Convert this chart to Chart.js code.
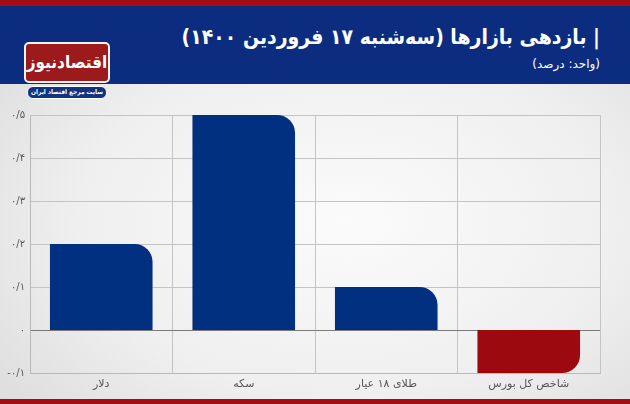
<!DOCTYPE html>
<html>
<head>
<meta charset="utf-8">
<script src="https://cdn.jsdelivr.net/npm/chart.js@4"></script>
<style>
  html, body { margin: 0; padding: 0; }
  body { width: 630px; height: 404px; position: relative; overflow: hidden;
         font-family: "DejaVu Sans", sans-serif;
         background: radial-gradient(ellipse at 55% 55%, #fbfbfb 0%, #efefef 55%, #d8d8d8 100%); }
  .strip-top { position: absolute; left: 0; top: 0; width: 630px; height: 6px; background: #a30d12; }
  .band { position: absolute; left: 0; top: 6px; width: 630px; height: 78px; background: #0c2d7f; }
  .strip-bottom { position: absolute; left: 0; top: 399px; width: 630px; height: 5px; background: #a30d12; }
  .title { position: absolute; right: 30px; top: 25px; direction: rtl; color: #fff;
           font-family: "DejaVu Sans Condensed", "DejaVu Sans", sans-serif;
           font-size: 21px; font-weight: bold; white-space: nowrap; }
  .subtitle { position: absolute; right: 30px; top: 57px; direction: rtl; color: #fff;
              font-size: 12px; white-space: nowrap; }
  .logo { position: absolute; left: 24px; top: 42px; width: 82px; height: 37px;
          background: #9c1a1c; border: 2px solid #f4f4f4; border-radius: 5px;
          color: #fff; font-family: "DejaVu Sans Condensed", "DejaVu Sans", sans-serif;
          font-size: 17px; font-weight: bold; text-align: center; line-height: 37px;
          direction: rtl; white-space: nowrap; overflow: hidden; }
  .pill { position: absolute; left: 27px; top: 86px; width: 78px; height: 11px;
          background: #12337f; border: 1px solid #fff; border-radius: 6px;
          color: #fff; font-family: "DejaVu Sans Condensed", "DejaVu Sans", sans-serif;
          font-size: 6.5px; font-weight: bold; text-align: center; line-height: 11px;
          direction: rtl; white-space: nowrap; overflow: hidden; }
  #wrap { position: absolute; left: 0; top: 104px; width: 630px; height: 295px; }
</style>
</head>
<body>
<div class="strip-top"></div>
<div class="band"></div>
<div class="strip-bottom"></div>
<div class="title">| بازدهی بازارها (سه‌شنبه ۱۷ فروردین ۱۴۰۰)</div>
<div class="subtitle">(واحد: درصد)</div>
<div class="logo">اقتصادنیوز</div>
<div class="pill">سایت مرجع اقتصاد ایران</div>
<div id="wrap"><canvas id="chart"></canvas></div>
<script>
// bazdehi bazarha, 17 farvardin 1400 (percent)
const categories = ["دلار", "سکه", "طلای ۱۸ عیار", "شاخص کل بورس"];
const returns = [0.2, 0.5, 0.1, -0.1];
const yTickLabels = ["-۰/۱", "۰", "۰/۱", "۰/۲", "۰/۳", "۰/۴", "۰/۵"];

const BLUE = "#00307f";
const RED = "#9c0a0f";

function init() {
  const ctx = document.getElementById("chart");
  new Chart(ctx, {
    type: "bar",
    data: {
      labels: categories,
      datasets: [{
        data: returns,
        backgroundColor: returns.map(v => (v >= 0 ? BLUE : RED)),
        borderRadius: c => (returns[c.dataIndex] >= 0 ? { topRight: 18 } : { bottomRight: 18 }),
        borderSkipped: false,
        barPercentage: 0.72,
        categoryPercentage: 1,
      }],
    },
    options: {
      responsive: true,
      maintainAspectRatio: false,
      animation: false,
      layout: { padding: { top: 10, right: 30, left: 0, bottom: 0 } },
      plugins: { legend: { display: false }, tooltip: { enabled: false } },
      scales: {
        x: {
          grid: { offset: true, color: "#c4c4c4", drawTicks: false },
          border: { color: "#b8b8b8" },
          ticks: { color: "#555", font: { family: "DejaVu Sans", size: 11 }, padding: 5 },
          afterFit: s => { s.height = 26; },
        },
        y: {
          min: -0.1,
          max: 0.5,
          ticks: {
            stepSize: 0.1,
            color: "#555",
            font: { family: "DejaVu Sans", size: 10 },
            padding: 5,
            callback: (v, i) => yTickLabels[i],
          },
          grid: {
            drawTicks: false,
            color: c => (Math.abs(c.tick.value) < 1e-9 ? "#7a7a7a" : "#c4c4c4"),
          },
          border: { color: "#b8b8b8" },
          afterFit: s => { s.width = 30; },
        },
      },
    },
  });
}

window.onload = init;
</script>
</body>
</html>
